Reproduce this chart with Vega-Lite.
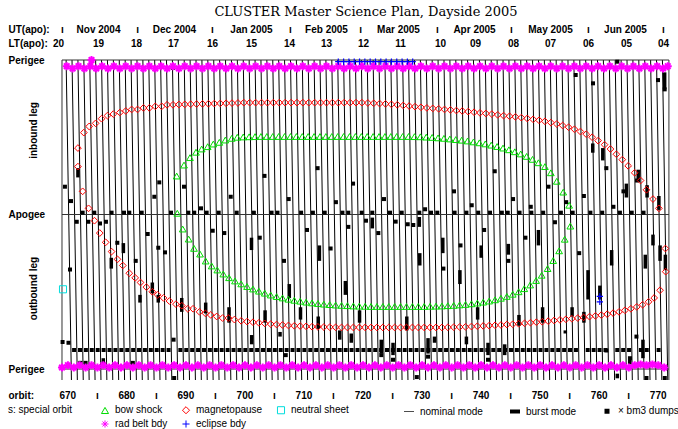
{
"$schema":"https://vega.github.io/schema/vega-lite/v6.json",
"width":614,"height":320,
"autosize":{"type":"none"},
"padding":{"left":56,"top":60,"right":8,"bottom":49},
"background":"white",
"title":{"text":"CLUSTER Master Science Plan, Dayside 2005","font":"DejaVu Serif","fontSize":13,"fontWeight":"normal","anchor":"middle","frame":"group","offset":5,"dx":3,"color":"black"},
"config":{"view":{"stroke":null},
"axis":{"domain":false,"ticks":false,"grid":false,"labelFont":"Liberation Sans","labelFontSize":10,"labelFontWeight":"bold","labelColor":"black","titleFont":"Liberation Sans","titleFontSize":10,"titleFontWeight":"bold","titleColor":"black","labelFlush":false,"labelOverlap":false},
"legend":{"labelFont":"Liberation Sans","labelFontSize":10,"labelColor":"black","titleFont":"Liberation Sans","titleFontSize":10,"titleFontWeight":"normal","titleColor":"black","padding":0}},
"datasets":{
"L":[{"a":669.8,"b":670.7},{"a":670.8,"b":671.7},{"a":671.8,"b":672.7},{"a":672.8,"b":673.7},{"a":673.8,"b":674.7},{"a":674.8,"b":675.7},{"a":675.8,"b":676.7},{"a":676.8,"b":677.7},{"a":677.8,"b":678.7},{"a":678.8,"b":679.7},{"a":679.8,"b":680.7},{"a":680.8,"b":681.7},{"a":681.8,"b":682.7},{"a":682.8,"b":683.7},{"a":683.8,"b":684.7},{"a":684.8,"b":685.7},{"a":685.8,"b":686.7},{"a":686.8,"b":687.7},{"a":687.8,"b":688.7},{"a":688.8,"b":689.7},{"a":689.8,"b":690.7},{"a":690.8,"b":691.7},{"a":691.8,"b":692.7},{"a":692.8,"b":693.7},{"a":693.8,"b":694.7},{"a":694.8,"b":695.7},{"a":695.8,"b":696.7},{"a":696.8,"b":697.7},{"a":697.8,"b":698.7},{"a":698.8,"b":699.7},{"a":699.8,"b":700.7},{"a":700.8,"b":701.7},{"a":701.8,"b":702.7},{"a":702.8,"b":703.7},{"a":703.8,"b":704.7},{"a":704.8,"b":705.7},{"a":705.8,"b":706.7},{"a":706.8,"b":707.7},{"a":707.8,"b":708.7},{"a":708.8,"b":709.7},{"a":709.8,"b":710.7},{"a":710.8,"b":711.7},{"a":711.8,"b":712.7},{"a":712.8,"b":713.7},{"a":713.8,"b":714.7},{"a":714.8,"b":715.7},{"a":715.8,"b":716.7},{"a":716.8,"b":717.7},{"a":717.8,"b":718.7},{"a":718.8,"b":719.7},{"a":719.8,"b":720.7},{"a":720.8,"b":721.7},{"a":721.8,"b":722.7},{"a":722.8,"b":723.7},{"a":723.8,"b":724.7},{"a":724.8,"b":725.7},{"a":725.8,"b":726.7},{"a":726.8,"b":727.7},{"a":727.8,"b":728.7},{"a":728.8,"b":729.7},{"a":729.8,"b":730.7},{"a":730.8,"b":731.7},{"a":731.8,"b":732.7},{"a":732.8,"b":733.7},{"a":733.8,"b":734.7},{"a":734.8,"b":735.7},{"a":735.8,"b":736.7},{"a":736.8,"b":737.7},{"a":737.8,"b":738.7},{"a":738.8,"b":739.7},{"a":739.8,"b":740.7},{"a":740.8,"b":741.7},{"a":741.8,"b":742.7},{"a":742.8,"b":743.7},{"a":743.8,"b":744.7},{"a":744.8,"b":745.7},{"a":745.8,"b":746.7},{"a":746.8,"b":747.7},{"a":747.8,"b":748.7},{"a":748.8,"b":749.7},{"a":749.8,"b":750.7},{"a":750.8,"b":751.7},{"a":751.8,"b":752.7},{"a":752.8,"b":753.7},{"a":753.8,"b":754.7},{"a":754.8,"b":755.7},{"a":755.8,"b":756.7},{"a":756.8,"b":757.7},{"a":757.8,"b":758.7},{"a":758.8,"b":759.7},{"a":759.8,"b":760.7},{"a":760.8,"b":761.7},{"a":761.8,"b":762.7},{"a":762.8,"b":763.7},{"a":763.8,"b":764.7},{"a":764.8,"b":765.7},{"a":765.8,"b":766.7},{"a":766.8,"b":767.7},{"a":767.8,"b":768.7},{"a":768.8,"b":769.7},{"a":769.8,"b":770.7},{"a":770.8,"b":771.7}],
"F":[{"x1":669.1,"x2":771.9,"y1":-1,"y2":-1},{"x1":669.1,"x2":669.1,"y1":-1,"y2":1.071},{"x1":771.9,"x2":771.9,"y1":-1,"y2":1.071},{"x1":669.1,"x2":771.9,"y1":0,"y2":0},{"x1":669.1,"x2":771.9,"y1":1,"y2":1}],
"R":[{"x":669.9,"p":-0.96},{"x":670.9,"p":-0.945},{"x":671.9,"p":-0.96},{"x":672.9,"p":-0.945},{"x":673.9,"p":-0.96},{"x":674.1,"p":-1.0},{"x":674.9,"p":-0.945},{"x":675.9,"p":-0.96},{"x":676.9,"p":-0.945},{"x":677.9,"p":-0.96},{"x":678.9,"p":-0.945},{"x":679.9,"p":-0.96},{"x":680.9,"p":-0.945},{"x":681.9,"p":-0.96},{"x":682.9,"p":-0.945},{"x":683.9,"p":-0.96},{"x":684.9,"p":-0.945},{"x":685.9,"p":-0.96},{"x":686.9,"p":-0.945},{"x":687.9,"p":-0.96},{"x":688.9,"p":-0.945},{"x":689.9,"p":-0.96},{"x":690.9,"p":-0.945},{"x":691.9,"p":-0.96},{"x":692.9,"p":-0.945},{"x":693.9,"p":-0.96},{"x":694.9,"p":-0.945},{"x":695.9,"p":-0.96},{"x":696.9,"p":-0.945},{"x":697.9,"p":-0.96},{"x":698.9,"p":-0.945},{"x":699.9,"p":-0.96},{"x":700.9,"p":-0.945},{"x":701.9,"p":-0.96},{"x":702.9,"p":-0.945},{"x":703.9,"p":-0.96},{"x":704.9,"p":-0.945},{"x":705.9,"p":-0.96},{"x":706.9,"p":-0.945},{"x":707.9,"p":-0.96},{"x":708.9,"p":-0.945},{"x":709.9,"p":-0.96},{"x":710.9,"p":-0.945},{"x":711.9,"p":-0.96},{"x":712.9,"p":-0.945},{"x":713.9,"p":-0.96},{"x":714.9,"p":-0.945},{"x":715.9,"p":-0.96},{"x":716.9,"p":-0.945},{"x":717.9,"p":-0.96},{"x":718.9,"p":-0.945},{"x":719.9,"p":-0.96},{"x":720.9,"p":-0.945},{"x":721.9,"p":-0.96},{"x":722.9,"p":-0.945},{"x":723.9,"p":-0.96},{"x":724.9,"p":-0.945},{"x":725.9,"p":-0.96},{"x":726.9,"p":-0.945},{"x":727.9,"p":-0.96},{"x":728.9,"p":-0.945},{"x":729.9,"p":-0.96},{"x":730.9,"p":-0.945},{"x":731.9,"p":-0.96},{"x":732.9,"p":-0.945},{"x":733.9,"p":-0.96},{"x":734.9,"p":-0.945},{"x":735.9,"p":-0.96},{"x":736.9,"p":-0.945},{"x":737.9,"p":-0.96},{"x":738.9,"p":-0.945},{"x":739.9,"p":-0.96},{"x":740.9,"p":-0.945},{"x":741.9,"p":-0.96},{"x":742.9,"p":-0.945},{"x":743.9,"p":-0.96},{"x":744.9,"p":-0.945},{"x":745.9,"p":-0.96},{"x":746.9,"p":-0.945},{"x":747.9,"p":-0.96},{"x":748.9,"p":-0.945},{"x":749.9,"p":-0.96},{"x":750.9,"p":-0.945},{"x":751.9,"p":-0.96},{"x":752.9,"p":-0.945},{"x":753.9,"p":-0.96},{"x":754.9,"p":-0.945},{"x":755.9,"p":-0.96},{"x":756.9,"p":-0.945},{"x":757.9,"p":-0.96},{"x":758.9,"p":-0.945},{"x":759.9,"p":-0.96},{"x":760.9,"p":-0.945},{"x":761.9,"p":-0.96},{"x":762.9,"p":-0.945},{"x":763.9,"p":-0.96},{"x":764.9,"p":-0.945},{"x":765.9,"p":-0.96},{"x":766.9,"p":-0.945},{"x":767.9,"p":-0.96},{"x":768.9,"p":-0.945},{"x":769.9,"p":-0.96},{"x":770.9,"p":-0.945},{"x":771.7,"p":-0.96},
{"x":669.1,"p":0.99},{"x":670.1,"p":0.975},{"x":671.1,"p":0.99},{"x":672.1,"p":0.975},{"x":673.1,"p":0.99},{"x":674.1,"p":0.975},{"x":675.1,"p":0.99},{"x":676.1,"p":0.975},{"x":677.1,"p":0.99},{"x":678.1,"p":0.975},{"x":679.1,"p":0.99},{"x":680.1,"p":0.975},{"x":681.1,"p":0.99},{"x":682.1,"p":0.975},{"x":683.1,"p":0.99},{"x":684.1,"p":0.975},{"x":685.1,"p":0.99},{"x":686.1,"p":0.975},{"x":687.1,"p":0.99},{"x":688.1,"p":0.975},{"x":689.1,"p":0.99},{"x":690.1,"p":0.975},{"x":691.1,"p":0.99},{"x":692.1,"p":0.975},{"x":693.1,"p":0.99},{"x":694.1,"p":0.975},{"x":695.1,"p":0.99},{"x":696.1,"p":0.975},{"x":697.1,"p":0.99},{"x":698.1,"p":0.975},{"x":699.1,"p":0.99},{"x":700.1,"p":0.975},{"x":701.1,"p":0.99},{"x":702.1,"p":0.975},{"x":703.1,"p":0.99},{"x":704.1,"p":0.975},{"x":705.1,"p":0.99},{"x":706.1,"p":0.975},{"x":707.1,"p":0.99},{"x":708.1,"p":0.975},{"x":709.1,"p":0.99},{"x":710.1,"p":0.975},{"x":711.1,"p":0.99},{"x":712.1,"p":0.975},{"x":713.1,"p":0.99},{"x":714.1,"p":0.975},{"x":715.1,"p":0.99},{"x":716.1,"p":0.975},{"x":717.1,"p":0.99},{"x":718.1,"p":0.975},{"x":719.1,"p":0.99},{"x":720.1,"p":0.975},{"x":721.1,"p":0.99},{"x":722.1,"p":0.975},{"x":723.1,"p":0.99},{"x":724.1,"p":0.975},{"x":725.1,"p":0.99},{"x":726.1,"p":0.975},{"x":727.1,"p":0.99},{"x":728.1,"p":0.975},{"x":729.1,"p":0.99},{"x":730.1,"p":0.975},{"x":731.1,"p":0.99},{"x":732.1,"p":0.975},{"x":733.1,"p":0.99},{"x":734.1,"p":0.975},{"x":735.1,"p":0.99},{"x":736.1,"p":0.975},{"x":737.1,"p":0.99},{"x":738.1,"p":0.975},{"x":739.1,"p":0.99},{"x":740.1,"p":0.975},{"x":741.1,"p":0.99},{"x":742.1,"p":0.975},{"x":743.1,"p":0.99},{"x":744.1,"p":0.975},{"x":745.1,"p":0.99},{"x":746.1,"p":0.975},{"x":747.1,"p":0.99},{"x":748.1,"p":0.975},{"x":749.1,"p":0.99},{"x":750.1,"p":0.975},{"x":751.1,"p":0.99},{"x":752.1,"p":0.975},{"x":753.1,"p":0.99},{"x":754.1,"p":0.975},{"x":755.1,"p":0.99},{"x":756.1,"p":0.975},{"x":757.1,"p":0.99},{"x":758.1,"p":0.975},{"x":759.1,"p":0.99},{"x":760.1,"p":0.975},{"x":761.1,"p":0.99},{"x":762.1,"p":0.975},{"x":763.1,"p":0.99},{"x":764.1,"p":0.975},{"x":765.1,"p":0.99},{"x":766.1,"p":0.975},{"x":767.1,"p":0.97},{"x":768.1,"p":0.975},{"x":769.1,"p":0.97},{"x":770.1,"p":0.975},{"x":771.1,"p":0.99}],
"MP":[{"x":673.6,"p":-0.04},{"x":672.6,"p":-0.15},{"x":671.8,"p":-0.31},{"x":671.8,"p":-0.43},{"x":672.8,"p":-0.53},{"x":673.7,"p":-0.57},{"x":674.8,"p":-0.59},{"x":675.8,"p":-0.62},{"x":676.8,"p":-0.64},{"x":677.8,"p":-0.65},{"x":678.9,"p":-0.66},{"x":679.9,"p":-0.67},{"x":680.9,"p":-0.68},{"x":681.9,"p":-0.68},{"x":682.9,"p":-0.69},{"x":683.9,"p":-0.69},{"x":684.9,"p":-0.7},{"x":686.0,"p":-0.7},{"x":686.9,"p":-0.71},{"x":687.9,"p":-0.71},{"x":688.9,"p":-0.712},{"x":689.9,"p":-0.713},{"x":690.9,"p":-0.714},{"x":691.9,"p":-0.715},{"x":692.9,"p":-0.716},{"x":693.9,"p":-0.717},{"x":694.9,"p":-0.718},{"x":695.9,"p":-0.719},{"x":696.9,"p":-0.72},{"x":697.9,"p":-0.721},{"x":698.9,"p":-0.722},{"x":699.9,"p":-0.724},{"x":700.9,"p":-0.724},{"x":701.9,"p":-0.724},{"x":702.9,"p":-0.724},{"x":703.9,"p":-0.724},{"x":704.9,"p":-0.724},{"x":705.9,"p":-0.724},{"x":706.9,"p":-0.724},{"x":707.9,"p":-0.724},{"x":708.9,"p":-0.724},{"x":709.9,"p":-0.724},{"x":710.9,"p":-0.724},{"x":711.9,"p":-0.724},{"x":712.9,"p":-0.724},{"x":713.9,"p":-0.724},{"x":714.9,"p":-0.724},{"x":715.9,"p":-0.724},{"x":716.9,"p":-0.724},{"x":717.9,"p":-0.724},{"x":718.9,"p":-0.724},{"x":719.9,"p":-0.724},{"x":720.9,"p":-0.722},{"x":721.9,"p":-0.72},{"x":722.9,"p":-0.718},{"x":723.9,"p":-0.716},{"x":724.9,"p":-0.713},{"x":725.9,"p":-0.71},{"x":726.9,"p":-0.706},{"x":727.9,"p":-0.702},{"x":728.9,"p":-0.698},{"x":729.9,"p":-0.694},{"x":730.9,"p":-0.69},{"x":731.9,"p":-0.687},{"x":732.9,"p":-0.684},{"x":733.9,"p":-0.68},{"x":734.9,"p":-0.677},{"x":735.9,"p":-0.673},{"x":736.9,"p":-0.67},{"x":737.9,"p":-0.666},{"x":738.9,"p":-0.662},{"x":739.9,"p":-0.658},{"x":740.9,"p":-0.654},{"x":741.9,"p":-0.65},{"x":742.9,"p":-0.645},{"x":743.9,"p":-0.64},{"x":744.9,"p":-0.636},{"x":745.9,"p":-0.632},{"x":746.9,"p":-0.627},{"x":747.9,"p":-0.622},{"x":748.9,"p":-0.616},{"x":749.9,"p":-0.61},{"x":750.9,"p":-0.603},{"x":751.9,"p":-0.595},{"x":752.9,"p":-0.586},{"x":753.9,"p":-0.576},{"x":754.9,"p":-0.565},{"x":755.9,"p":-0.552},{"x":756.9,"p":-0.537},{"x":757.9,"p":-0.52},{"x":758.9,"p":-0.5},{"x":759.9,"p":-0.478},{"x":761.0,"p":-0.452},{"x":762.0,"p":-0.424},{"x":763.0,"p":-0.39},{"x":764.0,"p":-0.355},{"x":765.0,"p":-0.315},{"x":766.1,"p":-0.27},{"x":767.1,"p":-0.22},{"x":768.1,"p":-0.16},{"x":769.2,"p":-0.1},{"x":770.2,"p":-0.04},
{"x":674.6,"p":0.04},{"x":675.5,"p":0.12},{"x":676.5,"p":0.18},{"x":677.5,"p":0.24},{"x":678.5,"p":0.29},{"x":679.4,"p":0.33},{"x":680.5,"p":0.38},{"x":681.5,"p":0.41},{"x":682.4,"p":0.44},{"x":683.4,"p":0.47},{"x":684.4,"p":0.5},{"x":685.3,"p":0.52},{"x":686.3,"p":0.54},{"x":687.3,"p":0.56},{"x":688.4,"p":0.58},{"x":689.4,"p":0.59},{"x":690.4,"p":0.61},{"x":691.3,"p":0.61},{"x":692.4,"p":0.63},{"x":693.4,"p":0.64},{"x":694.3,"p":0.65},{"x":695.3,"p":0.66},{"x":696.3,"p":0.67},{"x":697.3,"p":0.67},{"x":698.3,"p":0.68},{"x":699.45,"p":0.688},{"x":700.45,"p":0.693},{"x":701.45,"p":0.697},{"x":702.45,"p":0.701},{"x":703.45,"p":0.705},{"x":704.45,"p":0.709},{"x":705.45,"p":0.712},{"x":706.45,"p":0.715},{"x":707.45,"p":0.718},{"x":708.45,"p":0.72},{"x":709.45,"p":0.722},{"x":710.45,"p":0.724},{"x":711.45,"p":0.726},{"x":712.45,"p":0.727},{"x":713.45,"p":0.728},{"x":714.45,"p":0.729},{"x":715.45,"p":0.73},{"x":716.45,"p":0.731},{"x":717.45,"p":0.731},{"x":718.45,"p":0.731},{"x":719.45,"p":0.731},{"x":720.45,"p":0.731},{"x":721.45,"p":0.731},{"x":722.45,"p":0.731},{"x":723.45,"p":0.731},{"x":724.45,"p":0.731},{"x":725.45,"p":0.731},{"x":726.45,"p":0.731},{"x":727.45,"p":0.731},{"x":728.45,"p":0.731},{"x":729.45,"p":0.731},{"x":730.45,"p":0.731},{"x":731.45,"p":0.731},{"x":732.45,"p":0.731},{"x":733.45,"p":0.731},{"x":734.45,"p":0.73},{"x":735.45,"p":0.729},{"x":736.45,"p":0.728},{"x":737.45,"p":0.727},{"x":738.45,"p":0.725},{"x":739.45,"p":0.723},{"x":740.45,"p":0.721},{"x":741.45,"p":0.719},{"x":742.45,"p":0.717},{"x":743.45,"p":0.715},{"x":744.45,"p":0.712},{"x":745.45,"p":0.71},{"x":746.45,"p":0.707},{"x":747.45,"p":0.704},{"x":748.45,"p":0.7},{"x":749.45,"p":0.697},{"x":750.45,"p":0.694},{"x":751.45,"p":0.69},{"x":752.45,"p":0.686},{"x":753.45,"p":0.682},{"x":754.45,"p":0.678},{"x":755.45,"p":0.674},{"x":756.45,"p":0.67},{"x":757.45,"p":0.666},{"x":758.45,"p":0.661},{"x":759.45,"p":0.656},{"x":760.45,"p":0.651},{"x":761.45,"p":0.645},{"x":762.45,"p":0.638},{"x":763.45,"p":0.63},{"x":764.45,"p":0.62},{"x":765.45,"p":0.61},{"x":766.45,"p":0.598},{"x":767.45,"p":0.584},{"x":768.45,"p":0.565},{"x":769.4,"p":0.54},{"x":770.4,"p":0.49},{"x":771.35,"p":0.37},{"x":771.3,"p":0.22}],
"BS":[{"x":688.63,"p":-0.008},{"x":688.53,"p":-0.249},{"x":689.77,"p":-0.32},{"x":690.78,"p":-0.368},{"x":691.8,"p":-0.403},{"x":692.76,"p":-0.424},{"x":693.78,"p":-0.439},{"x":694.73,"p":-0.456},{"x":695.75,"p":-0.467},{"x":696.76,"p":-0.482},{"x":697.85,"p":-0.493},{"x":698.79,"p":-0.5},{"x":699.8,"p":-0.502},{"x":700.8,"p":-0.503},{"x":701.8,"p":-0.504},{"x":702.8,"p":-0.505},{"x":703.8,"p":-0.505},{"x":704.8,"p":-0.505},{"x":705.8,"p":-0.505},{"x":706.8,"p":-0.505},{"x":707.8,"p":-0.505},{"x":708.8,"p":-0.505},{"x":709.8,"p":-0.505},{"x":710.8,"p":-0.505},{"x":711.8,"p":-0.505},{"x":712.8,"p":-0.505},{"x":713.8,"p":-0.505},{"x":714.8,"p":-0.505},{"x":715.8,"p":-0.505},{"x":716.8,"p":-0.505},{"x":717.8,"p":-0.505},{"x":718.8,"p":-0.505},{"x":719.8,"p":-0.505},{"x":720.8,"p":-0.505},{"x":721.8,"p":-0.505},{"x":722.8,"p":-0.505},{"x":723.8,"p":-0.505},{"x":724.8,"p":-0.505},{"x":725.8,"p":-0.505},{"x":726.8,"p":-0.505},{"x":727.8,"p":-0.505},{"x":728.8,"p":-0.504},{"x":729.8,"p":-0.503},{"x":730.8,"p":-0.501},{"x":731.8,"p":-0.499},{"x":732.8,"p":-0.496},{"x":733.8,"p":-0.493},{"x":734.8,"p":-0.489},{"x":735.8,"p":-0.485},{"x":736.8,"p":-0.481},{"x":737.8,"p":-0.476},{"x":738.8,"p":-0.47},{"x":739.8,"p":-0.464},{"x":740.8,"p":-0.457},{"x":741.8,"p":-0.449},{"x":742.8,"p":-0.44},{"x":743.8,"p":-0.43},{"x":744.8,"p":-0.419},{"x":745.8,"p":-0.406},{"x":746.8,"p":-0.392},{"x":747.8,"p":-0.376},{"x":748.8,"p":-0.357},{"x":749.8,"p":-0.335},{"x":750.9,"p":-0.31},{"x":751.9,"p":-0.27},{"x":752.9,"p":-0.215},{"x":754.0,"p":-0.145},{"x":755.0,"p":-0.06},
{"x":689.55,"p":0.094},{"x":690.56,"p":0.159},{"x":691.46,"p":0.219},{"x":692.48,"p":0.256},{"x":693.44,"p":0.301},{"x":694.46,"p":0.333},{"x":695.41,"p":0.359},{"x":696.42,"p":0.385},{"x":697.39,"p":0.409},{"x":698.4,"p":0.43},{"x":699.45,"p":0.449},{"x":700.45,"p":0.466},{"x":701.45,"p":0.482},{"x":702.45,"p":0.496},{"x":703.45,"p":0.509},{"x":704.45,"p":0.521},{"x":705.45,"p":0.531},{"x":706.45,"p":0.54},{"x":707.45,"p":0.548},{"x":708.45,"p":0.555},{"x":709.45,"p":0.561},{"x":710.45,"p":0.567},{"x":711.45,"p":0.572},{"x":712.45,"p":0.576},{"x":713.45,"p":0.58},{"x":714.45,"p":0.583},{"x":715.45,"p":0.586},{"x":716.45,"p":0.588},{"x":717.45,"p":0.59},{"x":718.45,"p":0.592},{"x":719.45,"p":0.593},{"x":720.45,"p":0.594},{"x":721.45,"p":0.595},{"x":722.45,"p":0.595},{"x":723.45,"p":0.595},{"x":724.45,"p":0.595},{"x":725.45,"p":0.595},{"x":726.45,"p":0.595},{"x":727.45,"p":0.595},{"x":728.45,"p":0.595},{"x":729.45,"p":0.595},{"x":730.45,"p":0.595},{"x":731.45,"p":0.594},{"x":732.45,"p":0.593},{"x":733.45,"p":0.592},{"x":734.45,"p":0.59},{"x":735.45,"p":0.588},{"x":736.45,"p":0.585},{"x":737.45,"p":0.582},{"x":738.45,"p":0.578},{"x":739.45,"p":0.573},{"x":740.45,"p":0.567},{"x":741.45,"p":0.56},{"x":742.45,"p":0.552},{"x":743.45,"p":0.542},{"x":744.45,"p":0.53},{"x":745.45,"p":0.516},{"x":746.45,"p":0.5},{"x":747.4,"p":0.48},{"x":748.4,"p":0.456},{"x":749.4,"p":0.427},{"x":750.35,"p":0.393},{"x":751.35,"p":0.35},{"x":752.3,"p":0.298},{"x":753.3,"p":0.235},{"x":754.25,"p":0.16},{"x":755.2,"p":0.075}],
"NS":[{"x":669.27,"p":0.484}],
"EC":[{"x":715.9,"p":-0.99},{"x":716.8,"p":-0.99},{"x":717.7,"p":-0.99},{"x":718.6,"p":-0.99},{"x":719.5,"p":-0.99},{"x":720.4,"p":-0.99},{"x":721.3,"p":-0.99},{"x":722.2,"p":-0.99},{"x":723.1,"p":-0.99},{"x":724.0,"p":-0.99},{"x":724.9,"p":-0.99},{"x":725.8,"p":-0.99},{"x":726.7,"p":-0.99},{"x":727.6,"p":-0.99},{"x":728.5,"p":-0.99},{"x":760.2,"p":0.53},{"x":760.2,"p":0.565}],
"SQ":[{"x":671.15,"p":0.877},{"x":672.15,"p":0.877},{"x":673.15,"p":0.877},{"x":674.15,"p":0.877},{"x":675.15,"p":0.877},{"x":676.15,"p":0.877},{"x":677.15,"p":0.877},{"x":678.15,"p":0.877},{"x":679.15,"p":0.877},{"x":680.15,"p":0.877},{"x":681.15,"p":0.877},{"x":682.15,"p":0.877},{"x":683.15,"p":0.877},{"x":684.15,"p":0.877},{"x":685.15,"p":0.877},{"x":686.15,"p":0.877},{"x":687.15,"p":0.877},{"x":689.15,"p":0.877},{"x":690.15,"p":0.877},{"x":691.15,"p":0.877},{"x":692.15,"p":0.877},{"x":693.15,"p":0.877},{"x":694.15,"p":0.877},{"x":695.15,"p":0.877},{"x":696.15,"p":0.877},{"x":697.15,"p":0.877},{"x":698.15,"p":0.877},{"x":699.15,"p":0.877},{"x":700.15,"p":0.877},{"x":701.15,"p":0.877},{"x":702.15,"p":0.877},{"x":703.15,"p":0.877},{"x":704.15,"p":0.877},{"x":705.15,"p":0.877},{"x":706.15,"p":0.877},{"x":707.15,"p":0.877},{"x":708.15,"p":0.877},{"x":709.15,"p":0.877},{"x":710.15,"p":0.877},{"x":711.15,"p":0.877},{"x":712.15,"p":0.877},{"x":713.15,"p":0.877},{"x":714.15,"p":0.877},{"x":715.15,"p":0.877},{"x":716.15,"p":0.877},{"x":717.15,"p":0.877},{"x":718.15,"p":0.877},{"x":719.15,"p":0.877},{"x":720.15,"p":0.877},{"x":721.15,"p":0.877},{"x":722.15,"p":0.877},{"x":723.15,"p":0.877},{"x":724.15,"p":0.877},{"x":725.15,"p":0.877},{"x":726.15,"p":0.877},{"x":727.15,"p":0.877},{"x":728.15,"p":0.877},{"x":729.15,"p":0.877},{"x":730.15,"p":0.877},{"x":731.15,"p":0.877},{"x":732.15,"p":0.877},{"x":733.15,"p":0.877},{"x":734.15,"p":0.877},{"x":735.15,"p":0.877},{"x":736.15,"p":0.877},{"x":737.15,"p":0.877},{"x":738.15,"p":0.877},{"x":739.15,"p":0.877},{"x":740.15,"p":0.877},{"x":741.15,"p":0.877},{"x":742.15,"p":0.877},{"x":743.15,"p":0.877},{"x":744.15,"p":0.877},{"x":745.15,"p":0.877},{"x":746.15,"p":0.877},{"x":747.15,"p":0.877},{"x":748.15,"p":0.877},{"x":749.15,"p":0.877},{"x":750.15,"p":0.877},{"x":751.15,"p":0.877},{"x":752.15,"p":0.877},{"x":753.15,"p":0.877},{"x":754.15,"p":0.877},{"x":755.15,"p":0.877},{"x":756.15,"p":0.877},{"x":758.15,"p":0.877},{"x":759.15,"p":0.877},{"x":760.15,"p":0.877},{"x":761.15,"p":0.877},{"x":763.15,"p":0.877},{"x":764.15,"p":0.877},{"x":765.15,"p":0.877},{"x":767.15,"p":0.877},{"x":768.15,"p":0.877},{"x":770.15,"p":0.877},
{"x":669.2,"p":0.825},{"x":670.2,"p":0.83},{"x":688.0,"p":0.81},{"x":688.1,"p":1.058},{"x":729.2,"p":1.052},{"x":768.1,"p":1.058},{"x":771.2,"p":1.058},{"x":672.2,"p":0.96},{"x":673.1,"p":0.96},{"x":681.1,"p":0.96},
{"x":672.6,"p":-0.012},{"x":674.57,"p":-0.012},{"x":677.5,"p":-0.012},{"x":679.6,"p":-0.012},{"x":680.5,"p":-0.012},{"x":682.6,"p":-0.012},{"x":687.56,"p":-0.012},{"x":690.5,"p":-0.012},{"x":691.5,"p":-0.012},{"x":693.6,"p":-0.012},{"x":695.64,"p":-0.012},{"x":698.69,"p":-0.012},{"x":719.86,"p":-0.012},{"x":721.66,"p":-0.012},{"x":724.66,"p":-0.012},{"x":726.64,"p":-0.012},{"x":729.62,"p":-0.012},{"x":731.6,"p":-0.012},{"x":732.67,"p":-0.012},{"x":701.6,"p":-0.012},{"x":704.6,"p":-0.012},{"x":705.6,"p":-0.012},{"x":709.6,"p":-0.012},{"x":711.6,"p":-0.012},{"x":713.6,"p":-0.012},{"x":716.6,"p":-0.012},{"x":717.6,"p":-0.012},{"x":735.6,"p":-0.012},{"x":737.6,"p":-0.012},{"x":739.6,"p":-0.012},{"x":741.6,"p":-0.012},{"x":743.6,"p":-0.012},{"x":744.6,"p":-0.012},{"x":746.6,"p":-0.012},{"x":748.6,"p":-0.012},{"x":750.6,"p":-0.012},{"x":753.6,"p":-0.012},{"x":755.6,"p":-0.012},{"x":758.6,"p":-0.012},{"x":760.6,"p":-0.012},{"x":763.6,"p":-0.012},{"x":765.6,"p":-0.012},{"x":767.6,"p":-0.012},
{"x":671.6,"p":0.047},{"x":673.56,"p":0.047},{"x":675.54,"p":0.058},{"x":676.55,"p":0.047},{"x":720.59,"p":0.04},{"x":725.62,"p":0.046},{"x":727.66,"p":0.063},{"x":728.6,"p":0.068},
{"x":669.6,"p":-0.18},{"x":670.63,"p":-0.087},{"x":685.58,"p":-0.208},{"x":684.74,"p":-0.115},{"x":689.77,"p":-0.18},{"x":692.65,"p":-0.04},{"x":697.68,"p":-0.115},{"x":687.9,"p":-0.95},{"x":756.11,"p":-0.903},{"x":759.04,"p":-0.849},{"x":763.16,"p":-0.989},{"x":770.05,"p":-0.87},{"x":771.18,"p":-0.81},{"x":723.64,"p":-0.1},{"x":730.6,"p":-0.034},{"x":703.4,"p":-0.25},{"x":707.5,"p":-0.1},{"x":712.4,"p":-0.3},{"x":715.5,"p":-0.08},{"x":718.4,"p":-0.2},{"x":735.5,"p":-0.15},{"x":738.5,"p":-0.06},{"x":742.4,"p":-0.28},{"x":745.5,"p":-0.1},{"x":748.5,"p":-0.05},{"x":751.5,"p":-0.18},{"x":754.5,"p":-0.08},{"x":757.5,"p":-0.12},{"x":761.3,"p":-0.3},{"x":764.2,"p":-0.15},{"x":766.5,"p":-0.22},{"x":762.5,"p":-0.05},
{"x":670.46,"p":0.356},{"x":678.47,"p":0.183},{"x":681.59,"p":0.3},{"x":683.62,"p":0.126},{"x":685.41,"p":0.215},{"x":686.55,"p":0.245},{"x":694.63,"p":0.105},{"x":696.59,"p":0.12},{"x":722.68,"p":0.12},{"x":702.6,"p":0.15},{"x":706.7,"p":0.3},{"x":710.6,"p":0.1},{"x":714.6,"p":0.22},{"x":717.6,"p":0.08},{"x":733.7,"p":0.35},{"x":736.6,"p":0.2},{"x":740.6,"p":0.1},{"x":744.7,"p":0.3},{"x":747.6,"p":0.15},{"x":752.6,"p":0.05},{"x":756.7,"p":0.25},{"x":723.18,"p":0.91},{"x":725.17,"p":0.94},{"x":731.1,"p":0.92},{"x":741.26,"p":0.94},{"x":761.3,"p":0.88},{"x":766.4,"p":0.79},{"x":765.3,"p":0.93},{"x":707.0,"p":0.91}],
"BM":[{"x":671.8,"p":-0.3,"q":-0.24},{"x":679.5,"p":0.185,"q":0.25},{"x":677.45,"p":0.28,"q":0.35},{"x":684.4,"p":0.44,"q":0.51},{"x":685.41,"p":0.52,"q":0.57},{"x":682.31,"p":0.52,"q":0.57},{"x":689.38,"p":0.54,"q":0.63},{"x":693.44,"p":0.57,"q":0.64},{"x":697.39,"p":0.6,"q":0.7},{"x":676.1,"p":0.93,"q":0.96},{"x":716.14,"p":0.75,"q":0.81},{"x":718.1,"p":0.77,"q":0.83},{"x":723.18,"p":0.81,"q":0.9},{"x":725.17,"p":0.83,"q":0.91},{"x":731.1,"p":0.8,"q":0.9},{"x":732.2,"p":0.79,"q":0.83},{"x":737.6,"p":0.79,"q":0.84},{"x":741.26,"p":0.83,"q":0.91},{"x":744.08,"p":0.84,"q":0.91},{"x":754.35,"p":0.75,"q":0.77},{"x":767.5,"p":0.81,"q":0.93},{"x":763.16,"p":1.03,"q":1.06},{"x":765.26,"p":0.94,"q":0.97},{"x":721.66,"p":0.02,"q":0.09},{"x":729.62,"p":0.016,"q":0.08},{"x":701.23,"p":0.78,"q":0.84},{"x":706.03,"p":0.76,"q":0.79},{"x":759.0,"p":-0.46,"q":-0.4},{"x":760.7,"p":-0.43,"q":-0.35},{"x":764.7,"p":-0.2,"q":-0.11},{"x":766.7,"p":-0.29,"q":-0.21},{"x":768.2,"p":-0.19,"q":-0.11},{"x":770.2,"p":-0.12,"q":-0.03},{"x":771.18,"p":-0.92,"q":-0.81},{"x":758.2,"p":0.36,"q":0.55},{"x":760.2,"p":0.46,"q":0.55},{"x":762.2,"p":0.23,"q":0.33},{"x":767.9,"p":0.26,"q":0.35},{"x":769.2,"p":0.13,"q":0.2},{"x":770.4,"p":0.2,"q":0.3},{"x":771.3,"p":0.26,"q":0.36},{"x":703.5,"p":0.62,"q":0.7},{"x":709.5,"p":0.6,"q":0.68},{"x":712.5,"p":0.66,"q":0.74},{"x":719.5,"p":0.62,"q":0.7},{"x":727.5,"p":0.66,"q":0.75},{"x":739.5,"p":0.6,"q":0.68},{"x":746.5,"p":0.65,"q":0.72},{"x":750.5,"p":0.6,"q":0.7},{"x":755.5,"p":0.6,"q":0.66},{"x":757.5,"p":0.63,"q":0.7},{"x":701.2,"p":0.15,"q":0.23},{"x":707.6,"p":0.45,"q":0.54},{"x":712.7,"p":0.2,"q":0.3},{"x":717.1,"p":0.43,"q":0.52},{"x":729.7,"p":0.25,"q":0.33},{"x":733.6,"p":0.15,"q":0.25},{"x":736.5,"p":0.36,"q":0.45},{"x":740.1,"p":0.2,"q":0.28},{"x":744.7,"p":0.19,"q":0.26},{"x":749.8,"p":0.1,"q":0.2}]
},
"layer":[
{"data":{"name":"L"},"mark":{"type":"rule","color":"black","strokeWidth":1},
 "encoding":{"x":{"field":"a","type":"quantitative","scale":{"domain":[668.086,772.083],"nice":false,"zero":false},"axis":null},"x2":{"field":"b"},
 "y":{"datum":-1,"type":"quantitative","scale":{"domain":[-1,1.071],"nice":false,"zero":false,"reverse":true},"axis":null},"y2":{"datum":1.071}}},
{"data":{"name":"F"},"mark":{"type":"rule","color":"#333333","strokeWidth":1},
 "encoding":{"x":{"field":"x1","type":"quantitative","axis":{"orient":"bottom","values":[670,675,680,685,690,695,700,705,710,715,720,725,730,735,740,745,750,755,760,765,770],"labelExpr":"datum.value % 10 == 0 ? datum.label : 'ı'","format":"d","labelPadding":15,"labelBaseline":"middle","title":"orbit:","titleX":-48,"titleY":15,"titleAlign":"left","titleBaseline":"middle","titleAngle":0}},"x2":{"field":"x2"},
 "y":{"field":"y1","type":"quantitative","axis":{"orient":"left","values":[-1,0,1],"labelExpr":"datum.value == 0 ? 'Apogee' : 'Perigee'","labelAlign":"left","labelBaseline":"middle","labelPadding":48,"title":null}},"y2":{"field":"y2"}}},
{"data":{"name":"BM"},"mark":{"type":"rule","color":"black","strokeWidth":3.5},
 "encoding":{"x":{"field":"x","type":"quantitative","axis":null},"y":{"field":"p","type":"quantitative","axis":{"orient":"left","values":[-0.547,0.476],"labelExpr":"datum.value < 0 ? 'inbound leg' : 'outbound leg'","labelAngle":-90,"labelAlign":"center","labelBaseline":"middle","labelPadding":23,"title":null}},"y2":{"field":"q"}}},
{"data":{"name":"SQ"},"mark":{"type":"point","filled":true,"size":64,"strokeWidth":0,"opacity":1,"color":"black"},
 "encoding":{"x":{"field":"x","type":"quantitative","axis":null},"y":{"field":"p","type":"quantitative","axis":null},
 "shape":{"datum":"bm3 dumps","scale":{"domain":["nominal mode","burst mode","bm3 dumps"],"range":["M-1,-0.07L1,-0.07L1,0.07L-1,0.07Z","M-1,-0.4L1,-0.4L1,0.4L-1,0.4Z","M-0.5,-0.5L0.5,-0.5L0.5,0.5L-0.5,0.5Z"]},
  "legend":{"title":null,"orient":"none","direction":"horizontal","legendX":347,"legendY":345,"columns":3,"columnPadding":24,"symbolSize":100,"symbolFillColor":"black","labelOffset":5,"labelExpr":"datum.label == 'bm3 dumps' ? '× bm3 dumps' : datum.label"}}}},
{"layer":[
{"data":{"name":"MP"},"mark":{"type":"point","filled":false,"size":45,"strokeWidth":1,"opacity":1},
 "encoding":{"x":{"field":"x","type":"quantitative","axis":{"orient":"top","values":[669.1,675.2,681.81,688.07,694.51,701.11,707.72,713.82,719.58,726.01,732.62,738.89,745.15,751.76,758.19,764.46,770.89],"labelExpr":"['ı','Nov 2004','ı','Dec 2004','ı','Jan 2005','ı','Feb 2005','ı','Mar 2005','ı','Apr 2005','ı','May 2005','ı','Jun 2005','ı'][indexof([669.1,675.2,681.81,688.07,694.51,701.11,707.72,713.82,719.58,726.01,732.62,738.89,745.15,751.76,758.19,764.46,770.89], datum.value)]","labelPadding":31,"labelBaseline":"middle","title":"UT(apo):","titleX":-48,"titleY":-31,"titleAlign":"left","titleBaseline":"middle","titleAngle":0}},
 "y":{"field":"p","type":"quantitative","axis":null},
 "stroke":{"datum":"magnetopause","scale":{"domain":["bow shock","magnetopause","neutral sheet","rad belt bdy","eclipse bdy"],"range":["#00dd00","#ff0000","#00dddd","#ff00ff","#0000ff"]},
   "legend":{"title":"s: special orbit","orient":"none","direction":"horizontal","legendX":-48,"legendY":345,"columns":3,"columnPadding":12,"rowPadding":2,"titleOrient":"left","titleAnchor":"start","titleBaseline":"top","titlePadding":28,"symbolSize":50,"symbolStrokeWidth":1,"labelOffset":5}},
 "shape":{"datum":"magnetopause","scale":{"domain":["bow shock","magnetopause","neutral sheet","rad belt bdy","eclipse bdy"],"range":["triangle-up","diamond","square","M-1,0L1,0M0,-1L0,1M-0.7,-0.7L0.7,0.7M-0.7,0.7L0.7,-0.7","M-1,0L1,0M0,-1L0,1"]},
   "legend":{"title":"s: special orbit","orient":"none","direction":"horizontal","legendX":-48,"legendY":345,"columns":3,"columnPadding":12,"rowPadding":2,"titleOrient":"left","titleAnchor":"start","titleBaseline":"top","titlePadding":28,"symbolSize":50,"symbolStrokeWidth":1,"labelOffset":5}}}},
{"data":{"name":"BS"},"mark":{"type":"point","filled":false,"size":45,"strokeWidth":1,"opacity":1},
 "encoding":{"x":{"field":"x","type":"quantitative","axis":{"orient":"top","values":[668.42,675.2,681.64,687.9,694.51,701.11,707.55,713.82,720.08,726.35,733.12,739.05,745.49,751.76,758.19,764.63,770.89],"labelExpr":"['20','19','18','17','16','15','14','13','12','11','10','09','08','07','06','05','04'][indexof([668.42,675.2,681.64,687.9,694.51,701.11,707.55,713.82,720.08,726.35,733.12,739.05,745.49,751.76,758.19,764.63,770.89], datum.value)]","labelPadding":17,"labelBaseline":"middle","title":"LT(apo):","titleX":-48,"titleY":-17,"titleAlign":"left","titleBaseline":"middle","titleAngle":0}},
 "y":{"field":"p","type":"quantitative","axis":null},
 "stroke":{"datum":"bow shock"},"shape":{"datum":"bow shock"}}},
{"data":{"name":"NS"},"mark":{"type":"point","filled":false,"size":50,"strokeWidth":1,"opacity":1},
 "encoding":{"x":{"field":"x","type":"quantitative","axis":null},"y":{"field":"p","type":"quantitative","axis":null},"stroke":{"datum":"neutral sheet"},"shape":{"datum":"neutral sheet"}}},
{"data":{"name":"R"},"mark":{"type":"point","filled":false,"size":64,"strokeWidth":2,"opacity":1},
 "encoding":{"x":{"field":"x","type":"quantitative","axis":null},"y":{"field":"p","type":"quantitative","axis":null},"stroke":{"datum":"rad belt bdy"},"shape":{"datum":"rad belt bdy"}}},
{"data":{"name":"EC"},"mark":{"type":"point","filled":false,"size":40,"strokeWidth":1.2,"opacity":1},
 "encoding":{"x":{"field":"x","type":"quantitative","axis":null},"y":{"field":"p","type":"quantitative","axis":null},"stroke":{"datum":"eclipse bdy"},"shape":{"datum":"eclipse bdy"}}}
],
"resolve":{"axis":{"x":"independent","y":"independent"}}}
],
"resolve":{"axis":{"x":"independent","y":"independent"},"scale":{"shape":"independent","stroke":"independent"}}
}
